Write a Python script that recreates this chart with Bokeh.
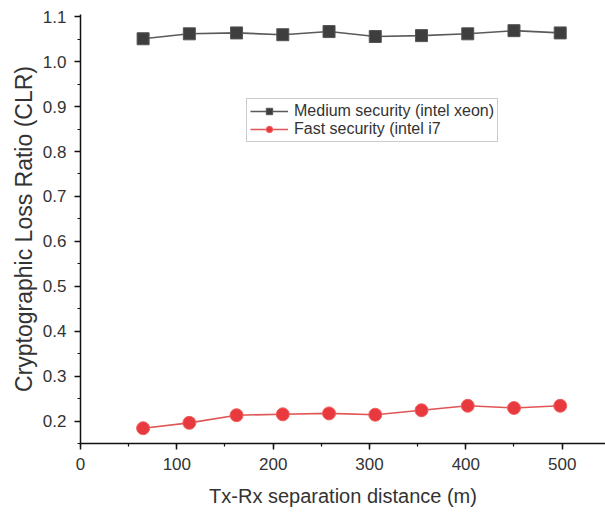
from bokeh.plotting import figure
from bokeh.models import (Range1d, SingleIntervalTicker, PrintfTickFormatter, Legend,
                          LegendItem, Title)
from bokeh.embed import file_html
from bokeh.resources import INLINE

# Data
distance = [65, 113, 162, 210, 258, 306, 354, 402, 450, 498]
medium_xeon = [1.051, 1.062, 1.064, 1.060, 1.067, 1.056, 1.058, 1.062, 1.069, 1.064]
fast_i7 = [0.184, 0.196, 0.213, 0.215, 0.217, 0.214, 0.224, 0.234, 0.229, 0.234]

labels = ["Medium security (intel xeon)", "Fast security (intel i7"]
x_title = "Tx-Rx separation distance (m)"
y_title = "Cryptographic Loss Ratio (CLR)"

FONT = "Liberation Sans"
TXT = "#333333"

p = figure(width=605, height=513, output_backend="svg", toolbar_location=None,
           x_range=Range1d(0, 545), y_range=Range1d(0.15, 1.105),
           min_border_left=80, min_border_right=0, min_border_top=14, min_border_bottom=70)
p.outline_line_color = None
p.xgrid.visible = False
p.ygrid.visible = False
p.background_fill_color = "white"
p.border_fill_color = "white"

# series
l1 = p.line(distance, medium_xeon, line_color="#5a5a5a", line_width=1.6)
s1 = p.scatter(distance, medium_xeon, marker="square", size=12,
               fill_color="#3e3e3e", line_color="#555555", line_width=1)
l2 = p.line(distance, fast_i7, line_color="#e05555", line_width=1.6)
s2 = p.scatter(distance, fast_i7, marker="circle", size=13,
               fill_color="#e83a3e", line_color="#f06060", line_width=1)

# axes
p.xaxis.ticker = SingleIntervalTicker(interval=100, num_minor_ticks=2)
p.yaxis.ticker = SingleIntervalTicker(interval=0.1, num_minor_ticks=2)
p.yaxis.formatter = PrintfTickFormatter(format="%.1f")
for ax in (p.xaxis[0], p.yaxis[0]):
    ax.axis_line_color = "#111111"
    ax.axis_line_width = 1.5
    ax.major_tick_line_color = "#111111"
    ax.minor_tick_line_color = "#111111"
    ax.major_tick_line_width = 1.5
    ax.minor_tick_line_width = 1.2
    ax.major_tick_out = 6
    ax.major_tick_in = 0
    ax.minor_tick_out = 3
    ax.minor_tick_in = 0
    ax.major_label_text_font = FONT
    ax.major_label_text_font_size = "17px"
    ax.major_label_text_color = TXT
    ax.axis_label_text_font = FONT
    ax.axis_label_text_font_style = "normal"
    ax.axis_label_text_color = TXT
p.xaxis.axis_label = x_title
p.xaxis.axis_label_text_font_size = "20px"
p.xaxis.major_label_standoff = 8
p.yaxis.major_label_standoff = 8
p.xaxis.axis_label_standoff = 12

# y axis title
ytitle = Title(text=y_title, align="center", offset=19, standoff=6,
               text_font=FONT, text_font_size="23px", text_font_style="normal",
               text_color=TXT)
p.add_layout(ytitle, "left")

legend = Legend(items=[LegendItem(label=labels[0], renderers=[l1, s1]),
                       LegendItem(label=labels[1], renderers=[l2, s2])],
                location=(166, 301))
legend.border_line_color = "#9a9a9a"
legend.border_line_width = 1
legend.background_fill_color = "white"
legend.background_fill_alpha = 1
legend.label_text_font = FONT
legend.label_text_font_size = "16px"
legend.label_text_color = TXT
legend.padding = 3
legend.spacing = 0
legend.margin = 0
legend.label_height = 16
legend.glyph_height = 16
legend.glyph_width = 38
legend.label_standoff = 6
p.add_layout(legend, "center")

open("out.html", "w").write(file_html(p, INLINE))
